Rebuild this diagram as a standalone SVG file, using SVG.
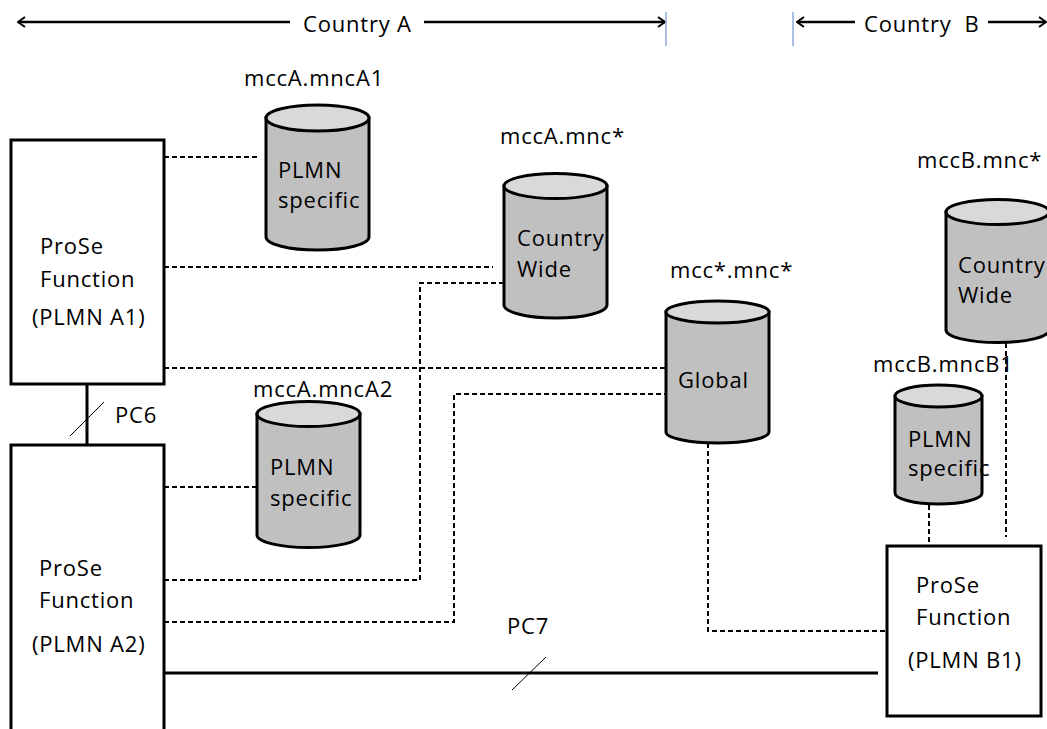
<svg xmlns="http://www.w3.org/2000/svg" width="1047" height="729" viewBox="0 0 1047 729">
<defs>
<marker id="open" viewBox="0 0 12 12" refX="11" refY="6" markerWidth="12" markerHeight="12" markerUnits="userSpaceOnUse" orient="auto-start-reverse">
<polyline points="4,1 11,6 4,11" fill="none" stroke="#000" stroke-width="2"/>
</marker>
</defs>
<style>
text{font-family:"Open Sans","Liberation Sans",sans-serif;font-size:22px;letter-spacing:0.8px;fill:#000}
.box{fill:#fff;stroke:#000;stroke-width:3}
.body{fill:#c0c0c0;stroke:#000;stroke-width:3}
.top{fill:#d9d9d9;stroke:#000;stroke-width:3}
.dash{fill:none;stroke:#000;stroke-width:2;stroke-dasharray:5,3}
.solid{fill:none;stroke:#000;stroke-width:3}
.thin{fill:none;stroke:#000;stroke-width:1}
.arr{fill:none;stroke:#000;stroke-width:2.5}
.sep{stroke:#8eaadb;stroke-width:1.5}
</style>
<rect width="1047" height="729" fill="#fff"/>
<g id="header">
<line class="arr" x1="290" y1="22" x2="18" y2="22" marker-end="url(#open)"/>
<line class="arr" x1="424" y1="22" x2="665" y2="22" marker-end="url(#open)"/>
<text x="303" y="32">Country A</text>
<line class="sep" x1="666" y1="12" x2="666" y2="46"/>
<line class="sep" x1="793" y1="12" x2="793" y2="46"/>
<line class="arr" x1="855" y1="22" x2="797" y2="22" marker-end="url(#open)"/>
<line class="arr" x1="988" y1="22" x2="1046" y2="22" marker-end="url(#open)"/>
<text x="864" y="32" xml:space="preserve">Country  B</text>
</g>
<g id="connectors">
<line class="dash" x1="164" y1="157" x2="258" y2="157"/>
<line class="dash" x1="164" y1="267" x2="493" y2="267"/>
<line class="dash" x1="164" y1="368" x2="666" y2="368"/>
<line class="dash" x1="164" y1="487" x2="257" y2="487"/>
<polyline class="dash" points="164,580 420,580 420,283 504,283"/>
<polyline class="dash" points="164,622 454,622 454,394 666,394"/>
<polyline class="dash" points="708,443 708,631 887,631"/>
<line class="dash" x1="929" y1="505" x2="929" y2="554"/>
<line class="dash" x1="1006" y1="343" x2="1006" y2="537"/>
<line class="solid" x1="87" y1="384" x2="87" y2="444"/>
<line class="thin" x1="70" y1="436" x2="104" y2="402"/>
<text x="115" y="423">PC6</text>
<line class="solid" x1="164" y1="673" x2="878" y2="673"/>
<line class="thin" x1="512" y1="690" x2="546" y2="657"/>
<text x="507" y="634">PC7</text>
</g>
<g id="prose-a1">
<rect class="box" x="11" y="140" width="153" height="244"/>
<text x="40" y="254">ProSe</text>
<text x="40" y="287">Function</text>
<text x="32" y="325">(PLMN A1)</text>
</g>
<g id="prose-a2">
<rect class="box" x="11" y="445" width="153" height="300"/>
<text x="39" y="576">ProSe</text>
<text x="39" y="608">Function</text>
<text x="32" y="652">(PLMN A2)</text>
</g>
<g id="prose-b1">
<rect class="box" x="887" y="546" width="154" height="170"/>
<text x="916" y="593">ProSe</text>
<text x="916" y="625">Function</text>
<text x="908" y="668">(PLMN B1)</text>
</g>
<g id="db-a1">
<text x="244" y="86">mccA.mncA1</text>
<path class="body" d="M266,118 V237 A51.5,13 0 0 0 369,237 V118 Z"/>
<ellipse class="top" cx="317.5" cy="118" rx="51.5" ry="13"/>
<text x="278" y="178">PLMN</text>
<text x="278" y="208">specific</text>
</g>
<g id="db-a-country">
<text x="500" y="144">mccA.mnc*</text>
<path class="body" d="M504,186 V305 A51.5,13 0 0 0 607,305 V186 Z"/>
<ellipse class="top" cx="555.5" cy="186" rx="51.5" ry="12.5"/>
<text x="517" y="246">Country</text>
<text x="517" y="277">Wide</text>
</g>
<g id="db-global">
<text x="670" y="278">mcc*.mnc*</text>
<path class="body" d="M666,312 V432 A51.5,11 0 0 0 769,432 V312 Z"/>
<ellipse class="top" cx="717.5" cy="312" rx="51.5" ry="11"/>
<text x="678" y="388">Global</text>
</g>
<g id="db-a2">
<text x="253" y="397">mccA.mncA2</text>
<path class="body" d="M257,414 V535 A51.5,12.5 0 0 0 360,535 V414 Z"/>
<ellipse class="top" cx="308.5" cy="414" rx="51.5" ry="12.5"/>
<text x="270" y="475">PLMN</text>
<text x="270" y="506">specific</text>
</g>
<g id="db-b-country">
<text x="917" y="168">mccB.mnc*</text>
<path class="body" d="M946,212 V330 A51.5,12.5 0 0 0 1049,330 V212 Z"/>
<ellipse class="top" cx="997.5" cy="212" rx="51.5" ry="12.5"/>
<text x="958" y="273">Country</text>
<text x="958" y="303">Wide</text>
</g>
<g id="db-b1">
<text x="873" y="372">mccB.mncB1</text>
<path class="body" d="M895,396 V493 A43.5,11 0 0 0 982,493 V396 Z"/>
<ellipse class="top" cx="938.5" cy="396" rx="43.5" ry="11"/>
<text x="908" y="447">PLMN</text>
<text x="908" y="476">specific</text>
</g>
</svg>
